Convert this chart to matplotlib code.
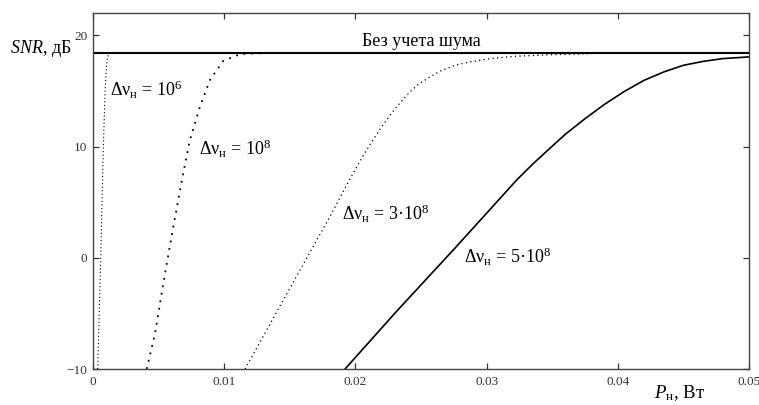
import numpy as np
import matplotlib.pyplot as plt

plt.rcParams["font.family"] = ["Liberation Serif", "DejaVu Serif"]
plt.rcParams["mathtext.fontset"] = "custom"
plt.rcParams["mathtext.rm"] = "Liberation Serif"
plt.rcParams["mathtext.it"] = "Liberation Serif:italic"

# %%
# Values (P in W, SNR in dB)

snr_no_noise = 18.4

p_1e6 = [0.00036, 0.00059, 0.00079, 0.00092, 0.00103, 0.00112, 0.0013]
snr_1e6 = [-10, 0, 10, 15, 17.3, 18.1, 18.4]

p_1e8 = [0.00409, 0.00473, 0.00536, 0.00612, 0.00688, 0.00739, 0.00816, 0.00892, 0.00993, 0.0112, 0.013]
snr_1e8 = [-10, -6.8, -2.3, 2.8, 7.6, 10.6, 13.6, 16.0, 17.7, 18.3, 18.4]

p_3e8 = [0.01159, 0.01578, 0.01806, 0.0195, 0.0206, 0.0213, 0.0219, 0.0225, 0.0231, 0.0239, 0.0247,
         0.0256, 0.0265, 0.0276, 0.0287, 0.0303, 0.032, 0.035, 0.038]
snr_3e8 = [-10, -1.1, 3.7, 6.9, 9.2, 10.5, 11.6, 12.6, 13.5, 14.6, 15.5,
           16.2, 16.8, 17.3, 17.6, 17.9, 18.1, 18.25, 18.35]

p_5e8 = [0.01921, 0.02315, 0.02746, 0.0300, 0.0323, 0.0335, 0.0346, 0.0360, 0.0375, 0.0390, 0.0405,
         0.0420, 0.0435, 0.0450, 0.0465, 0.0480, 0.04995]
snr_5e8 = [-10, -4.8, 0.7, 4.0, 7.0, 8.4, 9.6, 11.1, 12.5, 13.8, 14.95,
           15.95, 16.7, 17.3, 17.65, 17.9, 18.05]

x_ticks = [0, 0.01, 0.02, 0.03, 0.04, 0.05]
x_labels = ["0", "0.01", "0.02", "0.03", "0.04", "0.05"]
y_ticks = [-10, 0, 10, 20]
y_labels = ["\u221210", "0", "10", "20"]

# %%

fig = plt.figure(figsize=(7.59, 4.05), dpi=100)
ax = fig.add_axes([93 / 759, 36 / 405, 656 / 759, 356 / 405])

ax.plot(p_1e6, snr_1e6, color="k", lw=0.8, linestyle=(0, (1, 2.2)))
ax.plot(p_1e8, snr_1e8, color="k", lw=1.3, linestyle=(0, (1, 3.2)))
ax.plot(p_3e8, snr_3e8, color="k", lw=0.9, linestyle=(0, (1, 2.6)))
ax.plot(p_5e8, snr_5e8, color="k", lw=1.2)
ax.axhline(snr_no_noise, color="k", lw=1.5)

ax.set_xlim(0, 0.05)
ax.set_ylim(-10, 22)
ax.set_xticks(x_ticks)
ax.set_xticklabels(x_labels)
ax.set_yticks(y_ticks)
ax.set_yticklabels(y_labels)
ax.tick_params(direction="in", length=4, width=0.9, color="#333333", labelsize=9.5,
               top=True, right=True, labelcolor="#333333")
ax.tick_params(axis="x", pad=5)
ax.tick_params(axis="y", pad=4)
for s in ax.spines.values():
    s.set_color("#444444")
    s.set_linewidth(1.0)

# annotations
ax.text(0.025, 19.0, "Без учета шума", ha="center", va="baseline", fontsize=13)
ax.text(0.0013, 14.5, "Δν$_{\\mathrm{н}}$ = 10$^{6}$", ha="left", va="baseline", fontsize=13)
ax.text(0.0081, 9.2, "Δν$_{\\mathrm{н}}$ = 10$^{8}$", ha="left", va="baseline", fontsize=13)
ax.text(0.0190, 3.4, "Δν$_{\\mathrm{н}}$ = 3·10$^{8}$", ha="left", va="baseline", fontsize=13)
ax.text(0.0283, -0.5, "Δν$_{\\mathrm{н}}$ = 5·10$^{8}$", ha="left", va="baseline", fontsize=13)

fig.text(10 / 759, 1 - 53 / 405, "$SNR$, дБ", ha="left", va="baseline", fontsize=13)
fig.text(654 / 759, 1 - 398 / 405, "$P$$_{\\mathrm{н}}$, Вт", ha="left", va="baseline", fontsize=13.5)

fig.savefig("out.png", dpi=100)
